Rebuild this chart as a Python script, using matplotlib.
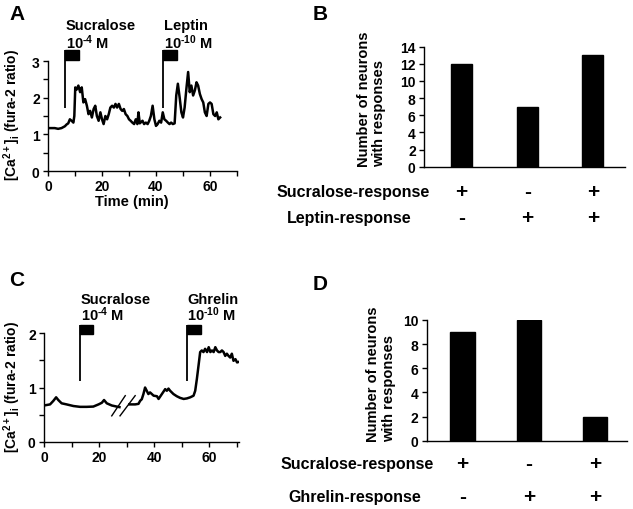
import matplotlib
matplotlib.use("Agg")
import matplotlib.pyplot as plt
from matplotlib.patches import Rectangle
from matplotlib.transforms import blended_transform_factory

plt.rcParams['font.family'] = ['Liberation Sans', 'DejaVu Sans']
plt.rcParams['font.weight'] = 'bold'
plt.rcParams['axes.labelweight'] = 'bold'
plt.rcParams['mathtext.fontset'] = 'custom'
plt.rcParams['mathtext.rm'] = 'Liberation Sans:bold'
plt.rcParams['mathtext.bf'] = 'Liberation Sans:bold'
plt.rcParams['mathtext.it'] = 'Liberation Sans:bold'
plt.rcParams['mathtext.default'] = 'bf'

# --- panel A: calcium trace, sucralose then leptin ---
time_a = [0, 2.5, 3.75, 5.0, 6.25, 6.9, 7.5, 8.1, 8.75, 9.4, 9.75, 10.1, 10.6, 11.25, 11.9,
          12.5, 13.1, 13.75, 14.4, 15.0, 15.6, 16.25, 16.9, 17.5, 18.1, 18.75, 19.4, 20.0,
          20.6, 21.25, 21.9, 22.5, 23.1, 23.75, 24.4, 25.0, 25.6, 26.25, 26.9, 27.5, 28.1,
          28.75, 29.4, 30.0, 30.6, 31.25, 31.9, 32.5, 33.1, 33.5, 34.0, 35.0, 35.6, 36.25,
          36.9, 37.5, 38.1, 38.75, 39.4, 40.0, 40.6, 41.25, 41.9, 42.5, 43.1, 43.75, 44.4,
          45.0, 45.6, 46.25, 46.9, 47.5, 48.1, 48.75, 49.4, 50.0, 50.6, 51.25, 51.9, 52.5,
          53.1, 53.75, 54.4, 55.0, 55.6, 56.25, 56.9, 57.5, 58.1, 58.75, 59.4, 60.0, 60.6,
          61.25, 61.9, 62.5, 63.1, 63.75]
ratio_a = [1.17, 1.17, 1.15, 1.17, 1.22, 1.27, 1.30, 1.41, 1.37, 1.32, 1.50, 2.28, 2.22, 2.33,
           2.15, 2.28, 1.87, 1.96, 1.78, 1.55, 1.64, 1.46, 1.69, 1.78, 1.50, 1.37, 1.60, 1.41,
           1.28, 1.50, 1.41, 1.55, 1.73, 1.78, 1.73, 1.83, 1.73, 1.83, 1.69, 1.64, 1.69, 1.55,
           1.50, 1.41, 1.37, 1.32, 1.28, 1.41, 1.28, 1.60, 1.30, 1.37, 1.28, 1.32, 1.28, 1.37,
           1.50, 1.78, 1.41, 1.23, 1.28, 1.37, 1.32, 1.60, 1.41, 1.37, 1.32, 1.28, 1.32, 1.28,
           1.30, 2.06, 2.38, 2.01, 1.60, 1.46, 1.73, 2.24, 2.70, 2.15, 2.33, 2.06, 2.20, 2.42,
           2.33, 2.10, 1.96, 1.87, 1.60, 1.50, 1.83, 1.87, 1.83, 1.55, 1.50, 1.60, 1.41, 1.46]
stim_a = ['Sucralose', 'Leptin']
conc_a = [r'10$^{\text{-}4}$ M', r'10$^{\text{-}10}$ M']
stim_start_a = [6.3, 42.5]
stim_len_a = [5.3, 5.1]

# --- panel C: calcium trace, sucralose then ghrelin (with a break in time) ---
time_c1 = [0, 2.2, 3.4, 4.4, 5.2, 6.4, 8.2, 10.7, 13.1, 15.5, 17.9, 19.8, 21.0, 21.8, 22.8,
           24.6, 26.4, 27.4]
ratio_c1 = [0.67, 0.69, 0.755, 0.82, 0.77, 0.71, 0.69, 0.66, 0.645, 0.645, 0.65, 0.69, 0.72,
            0.77, 0.71, 0.67, 0.65, 0.64]
time_c2 = [31.0, 33.1, 34.3, 34.9, 35.5, 36.1, 36.7, 37.3, 37.9, 38.5, 39.8, 41.0, 41.6, 42.8,
           44.0, 44.6, 45.2, 45.8, 47.0, 48.2, 49.4, 50.7, 51.9, 53.1, 54.3, 54.9, 55.5, 56.1,
           56.7, 57.3, 57.9, 58.5, 59.2, 59.8, 60.4, 61.0, 61.6, 62.2, 62.8, 63.4, 64.0, 64.6,
           65.2, 65.8, 66.4, 67.0, 67.6, 68.2, 68.8, 69.5, 70.1, 70.7]
ratio_c2 = [0.69, 0.69, 0.70, 0.755, 0.785, 0.88, 1.0, 0.94, 0.88, 0.91, 0.85, 0.84, 0.79, 0.88,
            0.97, 0.94, 0.98, 0.94, 0.88, 0.84, 0.81, 0.79, 0.80, 0.82, 0.85, 0.94, 1.155, 1.40,
            1.65, 1.68, 1.65, 1.71, 1.65, 1.74, 1.65, 1.68, 1.65, 1.74, 1.68, 1.65, 1.65, 1.68,
            1.65, 1.58, 1.62, 1.58, 1.55, 1.62, 1.49, 1.52, 1.46, 1.47]
stim_c = ['Sucralose', 'Ghrelin']
conc_c = [r'10$^{\text{-}4}$ M', r'10$^{\text{-}10}$ M']
stim_start_c = [13.1, 51.9]
stim_len_c = [4.8, 5.0]

# --- panels B and D: neuron counts ---
counts_b = [12, 7, 13]
counts_d = [9, 10, 2]
sucralose_resp = ['+', '-', '+']
leptin_resp = ['-', '+', '+']
ghrelin_resp = ['-', '+', '+']

W, H = 633, 510
fig = plt.figure(figsize=(W / 100, H / 100), dpi=100)


def box(left, top, right, bottom):
    # pixel box -> figure fraction
    return [left / W, 1 - bottom / H, (right - left) / W, (bottom - top) / H]


def fx(px):
    return px / W


def fy(py):
    return 1 - py / H


def style_axes(ax):
    for s in ['top', 'right']:
        ax.spines[s].set_visible(False)
    for s in ['left', 'bottom']:
        ax.spines[s].set_linewidth(1.0)
    ax.tick_params(which='both', direction='out', length=3.5, width=1.0, labelsize=10, pad=2.5)


def flag(ax, t0, dur, y0, y1, h):
    ax.plot([t0, t0], [y0, y1], color='black', lw=1.3, clip_on=False, solid_capstyle='butt')
    ax.add_patch(Rectangle((t0, y1 - h), dur, h, facecolor='black', edgecolor='black',
                           clip_on=False))


# A
axA = fig.add_axes(box(48, 62, 237, 172))
axA.plot(time_a, ratio_a, color='black', lw=1.8)
axA.set_xlim(0, 70)
axA.set_ylim(0, 3)
axA.set_xticks(range(0, 71, 10))
axA.set_xticklabels(['0', '', '20', '', '40', '', '60', ''])
axA.set_yticks([0, 1, 2, 3])
axA.set_yticks([0.5, 1.5, 2.5], minor=True)
style_axes(axA)
for name, conc, t0, dur in zip(stim_a, conc_a, stim_start_a, stim_len_a):
    flag(axA, t0, dur, 1.73, 3.29, 0.25)
    axA.text(t0 + 0.3, 3.99, name, fontsize=10.5, va='center', ha='left', clip_on=False)
    axA.text(t0 + 0.3, 3.52, conc, fontsize=10.5, va='center', ha='left', clip_on=False)

# C
axC = fig.add_axes(box(44, 334, 239, 443))
axC.plot(time_c1, ratio_c1, color='black', lw=1.8)
axC.plot(time_c2, ratio_c2, color='black', lw=1.8)
axC.plot([24.6, 29.5], [0.48, 0.85], color='black', lw=1.0)
axC.plot([27.6, 33.1], [0.48, 0.85], color='black', lw=1.0)
axC.set_xlim(0, 70.8)
axC.set_ylim(0, 2)
axC.set_xticks(range(0, 71, 10))
axC.set_xticklabels(['0', '', '20', '', '40', '', '60', ''])
axC.set_yticks([0, 1, 2])
axC.set_yticks([0.5, 1.5], minor=True)
style_axes(axC)
for name, conc, t0, dur in zip(stim_c, conc_c, stim_start_c, stim_len_c):
    flag(axC, t0, dur, 1.12, 2.15, 0.17)
    axC.text(t0 + 0.2, 2.63, name, fontsize=10.5, va='center', ha='left', clip_on=False)
    axC.text(t0 + 0.2, 2.35, conc, fontsize=10.5, va='center', ha='left', clip_on=False)

ca_label = r'[Ca$^{2+}$]$_{\mathbf{i}}$ (fura-2 ratio)'
fig.text(fx(12.5), fy(115), ca_label, rotation=90, ha='center', va='center', fontsize=10)
fig.text(fx(12.5), fy(387), ca_label, rotation=90, ha='center', va='center', fontsize=10)
fig.text(fx(132), fy(202), 'Time (min)', ha='center', va='center', fontsize=10.5)

# B
axB = fig.add_axes(box(424, 47.7, 625, 167.7))
axB.bar(range(3), counts_b, width=0.32, color='black', edgecolor='black')
axB.set_xlim(-0.57, 2.49)
axB.set_ylim(0, 14)
axB.set_yticks(range(0, 15, 2))
axB.set_xticks([])
style_axes(axB)

# D
axD = fig.add_axes(box(426.7, 321, 627, 441.7))
axD.bar(range(3), counts_d, width=0.37, color='black', edgecolor='black')
axD.set_xlim(-0.54, 2.48)
axD.set_ylim(0, 10)
axD.set_yticks(range(0, 11, 2))
axD.set_xticks([])
style_axes(axD)

nlabel = 'Number of neurons\nwith responses'
fig.text(fx(371.7), fy(167), nlabel, rotation=90, ha='center', va='bottom',
         multialignment='left', fontsize=10.5, linespacing=1.15)
fig.text(fx(381.3), fy(441.7), nlabel, rotation=90, ha='center', va='bottom',
         multialignment='left', fontsize=10.5, linespacing=1.15)


def sign_rows(ax, rows, names, starts, ys):
    tr = blended_transform_factory(ax.transData, fig.transFigure)
    for signs, name, x0, y in zip(rows, names, starts, ys):
        fig.text(fx(x0), fy(y), name, ha='left', va='center', fontsize=11.5)
        for i, s in enumerate(signs):
            ax.text(i, fy(y), s, transform=tr, ha='center', va='center', fontsize=15)


sign_rows(axB, [sucralose_resp, leptin_resp], ['Sucralose-response', 'Leptin-response'],
          [277, 287], [193, 219])
sign_rows(axD, [sucralose_resp, ghrelin_resp], ['Sucralose-response', 'Ghrelin-response'],
          [281, 288], [465, 498])

for letter, x, y in [('A', 17, 14), ('B', 320, 14), ('C', 17, 281), ('D', 320, 284)]:
    fig.text(fx(x), fy(y), letter, ha='center', va='center', fontsize=15)

fig.savefig('out.png', dpi=100)
